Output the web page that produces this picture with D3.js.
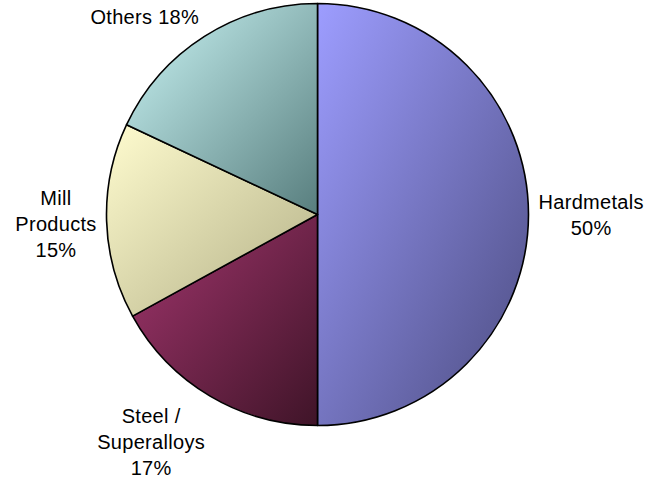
<!DOCTYPE html>
<html>
<head>
<meta charset="utf-8">
<script src="https://cdn.jsdelivr.net/npm/d3@7"></script>
<style>
  html, body { margin: 0; padding: 0; background: #fff; }
  svg { display: block; }
</style>
</head>
<body>
<svg id="chart" width="658" height="479"></svg>
<script>
// Tungsten consumption by end use (%), clockwise from 12 o'clock
const categories = ["Hardmetals", "Steel / Superalloys", "Mill Products", "Others"];
const labelLines = [["Hardmetals", "50%"], ["Steel /", "Superalloys", "17%"], ["Mill", "Products", "15%"], ["Others 18%"]];
const shares = [50, 17, 15, 18];
const lightColors = ["#9d9dff", "#a3366e", "#fffccf", "#cbf6f6"];
const darkColors  = ["#4c4c80", "#3f1428", "#b2af86", "#587e7e"];

const width = 658, height = 479;
const cx = 317.5, cy = 214.5, radius = 211;

const svg = d3.select("#chart");
const defs = svg.append("defs");

// Diagonal light-to-dark shading per slice
categories.forEach((c, i) => {
  const g = defs.append("linearGradient")
    .attr("id", "grad" + i)
    .attr("x1", 0).attr("y1", 0).attr("x2", 1).attr("y2", 1);
  g.append("stop").attr("offset", "0%").attr("stop-color", lightColors[i]);
  g.append("stop").attr("offset", "100%").attr("stop-color", darkColors[i]);
});

const pie = d3.pie().sort(null).value(d => d)(shares);
const arc = d3.arc().innerRadius(0).outerRadius(radius);

const root = svg.append("g").attr("transform", `translate(${cx},${cy})`);

root.selectAll("path.slice")
  .data(pie)
  .join("path")
  .attr("class", "slice")
  .attr("d", arc)
  .attr("fill", (d, i) => `url(#grad${i})`)
  .attr("stroke", "#000")
  .attr("stroke-width", 1.6)
  .attr("stroke-linejoin", "round");

// Labels sit just outside the rim, the box corner pushed away along the slice's mid-angle
const fontSize = 20, lineStep = 26, pad = 10;
pie.forEach((d, i) => {
  const a = (d.startAngle + d.endAngle) / 2;
  const ux = Math.sin(a), uy = -Math.cos(a);
  const px = (radius + pad) * ux, py = (radius + pad) * uy;

  const t = root.append("text")
    .attr("font-family", "Liberation Sans, Arial, sans-serif")
    .attr("font-size", fontSize)
    .attr("letter-spacing", 0.3)
    .attr("fill", "#000")
    .attr("text-anchor", "middle");
  labelLines[i].forEach((ln, k) => {
    t.append("tspan").attr("x", 0).attr("y", k * lineStep).text(ln);
  });
  const bb = t.node().getBBox();
  const sx = Math.max(-1, Math.min(1, ux * 2));
  const sy = Math.max(-1, Math.min(1, uy * 2));
  const bcx = px + sx * bb.width / 2;
  const bcy = py + sy * bb.height / 2;
  const dx = bcx - (bb.x + bb.width / 2);
  const dy = bcy - (bb.y + bb.height / 2);
  t.attr("transform", `translate(${dx},${dy})`);
});
</script>
</body>
</html>
